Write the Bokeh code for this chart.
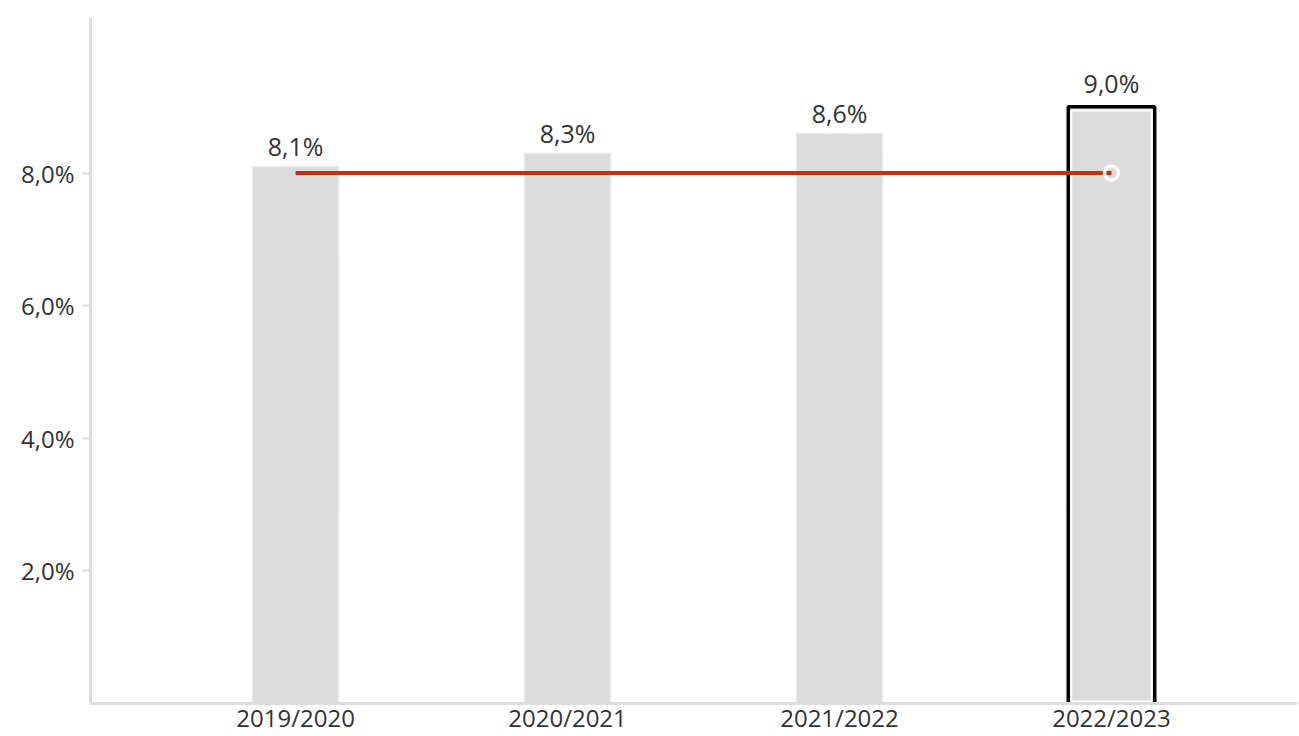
from bokeh.plotting import figure
from bokeh.models import ColumnDataSource, Range1d, FixedTicker, CustomJSTickFormatter
from bokeh.core.properties import value
from bokeh.embed import file_html
from bokeh.resources import INLINE

seasons = ["2019/2020", "2020/2021", "2021/2022", "2022/2023"]
rates = [8.1, 8.3, 8.6, 9.0]
labels = ["8,1%", "8,3%", "8,6%", "9,0%"]
target = [8.0, 8.0, 8.0, 8.0]
y_ticks = [2, 4, 6, 8]

xs = list(range(len(seasons)))
last = len(seasons) - 1
src = ColumnDataSource(dict(x=xs[:last], top=rates[:last], label=labels[:last]))
src_last = ColumnDataSource(dict(x=[xs[last]], top=[rates[last]], label=[labels[last]]))

p = figure(width=1299, height=736, output_backend="svg", toolbar_location=None,
           x_range=Range1d(-0.754, 3.684), y_range=Range1d(0, 10.346),
           min_border_left=90, min_border_right=2, min_border_top=17, min_border_bottom=30)
p.outline_line_color = None
p.xgrid.visible = False
p.ygrid.visible = False
p.background_fill_color = "white"

p.vbar(x="x", top="top", bottom=0, width=0.318, source=src,
       fill_color="#dcdcdc", line_color="#eeeeee", line_width=1.5)

# highlighted last bar
p.vbar(x="x", top="top", bottom=0, width=0.318, source=src_last,
       fill_color="#dcdcdc", line_color="black", line_width=3.5)
p.vbar(x=[xs[last]], top=[rates[last] - 0.055], bottom=0.03, width=0.296,
       fill_color=None, line_color="white", line_width=2)

# target line
p.line(x=xs, y=target, line_color="#c4300a", line_width=4)
p.scatter(x=[xs[last]], y=[target[last]], size=14, marker="circle",
          fill_color=None, line_color="white", line_width=3.5)

for s, off in ((src, -3), (src_last, -7)):
    p.text(x="x", y="top", text="label", source=s, text_align="center",
           text_baseline="bottom", y_offset=off, text_font=value("Open Sans"),
           text_font_size="25px", text_color="#333333")

p.xaxis.ticker = FixedTicker(ticks=xs)
p.xaxis.major_label_overrides = {i: s for i, s in enumerate(seasons)}
p.xaxis.major_label_text_font_size = "24px"
p.xaxis.major_label_standoff = -3
p.xaxis.major_tick_line_color = None
p.xaxis.major_tick_out = 0
p.xaxis.major_tick_in = 0
p.yaxis.ticker = FixedTicker(ticks=y_ticks)
p.yaxis.formatter = CustomJSTickFormatter(code="return tick.toFixed(1).replace('.', ',') + '%';")

for ax in (p.xaxis, p.yaxis):
    ax.axis_line_color = "#dddddd"
    ax.axis_line_width = 3
    ax.major_label_text_font = "Open Sans"
    ax.major_label_text_color = "#333333"
    ax.minor_tick_line_color = None

p.yaxis.major_label_text_font_size = "24px"
p.yaxis.major_tick_line_color = "#dddddd"
p.yaxis.major_tick_line_width = 2
p.yaxis.major_tick_out = 8
p.yaxis.major_tick_in = 0
p.yaxis.major_label_standoff = 8

open("out.html", "w").write(file_html(p, INLINE))
